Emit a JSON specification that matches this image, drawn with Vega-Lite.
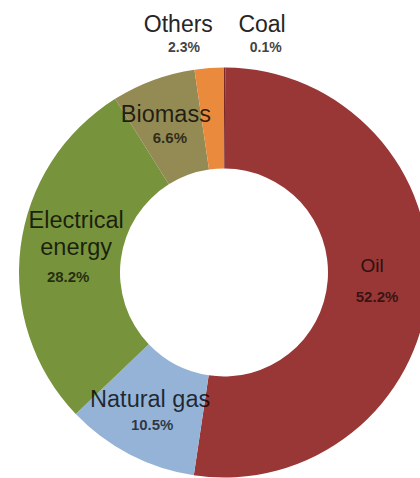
{
  "$schema": "https://vega.github.io/schema/vega-lite/v6.json",
  "width": 448,
  "height": 545,
  "autosize": {"type": "none"},
  "padding": {"left": 0, "top": 0, "right": -28, "bottom": -67},
  "background": "white",
  "view": {"stroke": null},
  "data": {
    "values": [
      {"source": "Coal", "label": "Coal", "share": 0.1, "pct": "0.1%", "ord": 1},
      {"source": "Oil", "label": "Oil", "share": 52.2, "pct": "52.2%", "ord": 2},
      {"source": "Natural gas", "label": "Natural gas", "share": 10.5, "pct": "10.5%", "ord": 3},
      {"source": "Electrical energy", "label": "Electrical\nenergy", "share": 28.2, "pct": "28.2%", "ord": 4},
      {"source": "Biomass", "label": "Biomass", "share": 6.6, "pct": "6.6%", "ord": 5},
      {"source": "Others", "label": "Others", "share": 2.3, "pct": "2.3%", "ord": 6}
    ]
  },
  "encoding": {
    "theta": {"field": "share", "type": "quantitative", "stack": true},
    "order": {"field": "ord", "type": "quantitative", "sort": "ascending"}
  },
  "layer": [
    {
      "mark": {"type": "arc", "outerRadius": 205, "innerRadius": 104},
      "encoding": {
        "color": {
          "field": "source",
          "type": "nominal",
          "scale": {
            "domain": ["Coal", "Oil", "Natural gas", "Electrical energy", "Biomass", "Others"],
            "range": ["#7a2a2a", "#983736", "#95b3d7", "#77933c", "#948a54", "#ea8a3c"]
          },
          "legend": null
        }
      }
    },
    {
      "mark": {"type": "text", "radius": 154, "dx": -5.5, "dy": -12, "fontSize": 19, "font": "Liberation Sans", "fill": "#000", "fillOpacity": 0.72, "align": "center", "baseline": "alphabetic"},
      "encoding": {"text": {"condition": {"test": "datum.source === 'Oil'", "field": "label"}, "value": ""}}
    },
    {
      "mark": {"type": "text", "radius": 154, "dx": -0.5, "dy": 18, "fontSize": 15, "fontWeight": "bold", "font": "Liberation Sans", "fill": "#000", "fillOpacity": 0.65, "align": "center", "baseline": "alphabetic"},
      "encoding": {"text": {"condition": {"test": "datum.source === 'Oil'", "field": "pct"}, "value": ""}}
    },
    {
      "mark": {"type": "text", "radius": 154, "dx": -3, "dy": -2, "fontSize": 23.5, "font": "Liberation Sans", "fill": "#000", "fillOpacity": 0.78, "align": "center", "baseline": "alphabetic"},
      "encoding": {"text": {"condition": {"test": "datum.source === 'Natural gas'", "field": "label"}, "value": ""}}
    },
    {
      "mark": {"type": "text", "radius": 154, "dx": -1, "dy": 21, "fontSize": 15, "fontWeight": "bold", "font": "Liberation Sans", "fill": "#000", "fillOpacity": 0.7, "align": "center", "baseline": "alphabetic"},
      "encoding": {"text": {"condition": {"test": "datum.source === 'Natural gas'", "field": "pct"}, "value": ""}}
    },
    {
      "mark": {"type": "text", "radius": 154, "dx": 5, "dy": -25.5, "fontSize": 23.5, "lineHeight": 27, "lineBreak": "\n", "font": "Liberation Sans", "fill": "#000", "fillOpacity": 0.78, "align": "center", "baseline": "alphabetic"},
      "encoding": {"text": {"condition": {"test": "datum.source === 'Electrical energy'", "field": "label"}, "value": ""}}
    },
    {
      "mark": {"type": "text", "radius": 154, "dx": -3, "dy": 28.5, "fontSize": 15, "fontWeight": "bold", "font": "Liberation Sans", "fill": "#000", "fillOpacity": 0.7, "align": "center", "baseline": "alphabetic"},
      "encoding": {"text": {"condition": {"test": "datum.source === 'Electrical energy'", "field": "pct"}, "value": ""}}
    },
    {
      "mark": {"type": "text", "radius": 154, "dx": -5, "dy": -6, "fontSize": 23.5, "font": "Liberation Sans", "fill": "#000", "fillOpacity": 0.78, "align": "center", "baseline": "alphabetic"},
      "encoding": {"text": {"condition": {"test": "datum.source === 'Biomass'", "field": "label"}, "value": ""}}
    },
    {
      "mark": {"type": "text", "radius": 154, "dx": -1, "dy": 15, "fontSize": 15, "fontWeight": "bold", "font": "Liberation Sans", "fill": "#000", "fillOpacity": 0.7, "align": "center", "baseline": "alphabetic"},
      "encoding": {"text": {"condition": {"test": "datum.source === 'Biomass'", "field": "pct"}, "value": ""}}
    },
    {
      "mark": {"type": "text", "radius": 236, "dx": -28.6, "dy": -5, "fontSize": 23, "font": "Liberation Sans", "fill": "#262626", "align": "center", "baseline": "alphabetic"},
      "encoding": {"text": {"condition": {"test": "datum.source === 'Others'", "field": "label"}, "value": ""}}
    },
    {
      "mark": {"type": "text", "radius": 236, "dx": -23, "dy": 15, "fontSize": 14, "fontWeight": "bold", "font": "Liberation Sans", "fill": "#444", "align": "center", "baseline": "alphabetic"},
      "encoding": {"text": {"condition": {"test": "datum.source === 'Others'", "field": "pct"}, "value": ""}}
    },
    {
      "mark": {"type": "text", "radius": 236, "dx": 37.3, "dy": -4.6, "fontSize": 23, "font": "Liberation Sans", "fill": "#262626", "align": "center", "baseline": "alphabetic"},
      "encoding": {"text": {"condition": {"test": "datum.source === 'Coal'", "field": "label"}, "value": ""}}
    },
    {
      "mark": {"type": "text", "radius": 236, "dx": 41, "dy": 15.4, "fontSize": 14, "fontWeight": "bold", "font": "Liberation Sans", "fill": "#444", "align": "center", "baseline": "alphabetic"},
      "encoding": {"text": {"condition": {"test": "datum.source === 'Coal'", "field": "pct"}, "value": ""}}
    }
  ]
}
